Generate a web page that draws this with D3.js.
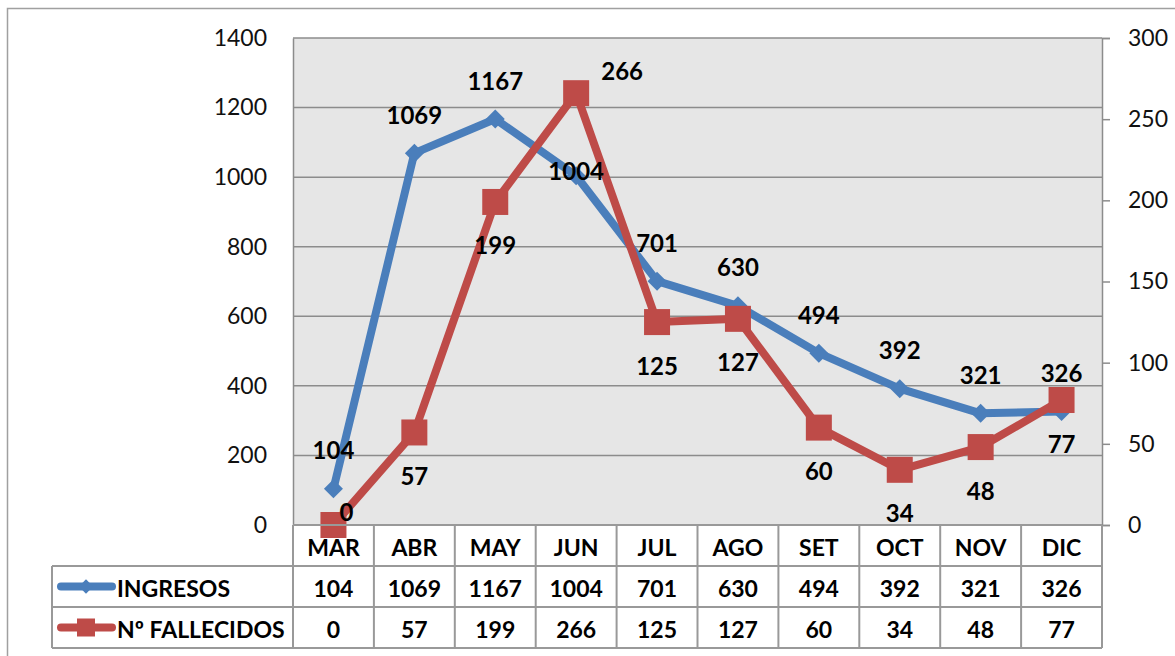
<!DOCTYPE html>
<html>
<head>
<meta charset="utf-8">
<script src="https://cdnjs.cloudflare.com/ajax/libs/d3/7.8.5/d3.min.js"></script>
<style>
  body { margin: 0; background: #fff; }
  text { font-family: Lato, "Open Sans", sans-serif; }
</style>
</head>
<body>
<div id="chart"></div>
<script>
const months = ["MAR", "ABR", "MAY", "JUN", "JUL", "AGO", "SET", "OCT", "NOV", "DIC"];
const ingresos = [104, 1069, 1167, 1004, 701, 630, 494, 392, 321, 326];
const fallecidos = [0, 57, 199, 266, 125, 127, 60, 34, 48, 77];
const leftTicks = [0, 200, 400, 600, 800, 1000, 1200, 1400];
const rightTicks = [0, 50, 100, 150, 200, 250, 300];

const width = 1175, height = 656;
const plotLeft = 293, plotRight = 1102, plotTop = 38, plotBottom = 525;
const rowH = 41;
const blue = "#4a7ebb", red = "#be4b48";

const svg = d3.select("#chart").append("svg")
  .attr("width", width).attr("height", height);

// outer chart border
svg.append("rect")
  .attr("x", 7.5).attr("y", 8.5)
  .attr("width", width).attr("height", height)
  .attr("fill", "none").attr("stroke", "#a0a0a0").attr("stroke-width", 1.5);

const x = d3.scaleBand().domain(months).range([plotLeft, plotRight]);
const cx = m => x(m) + x.bandwidth() / 2;
const yL = d3.scaleLinear().domain([0, 1400]).range([plotBottom, plotTop]);
const yR = d3.scaleLinear().domain([0, 300]).range([plotBottom, plotTop]);

// plot background
svg.append("rect")
  .attr("x", plotLeft).attr("y", plotTop)
  .attr("width", plotRight - plotLeft).attr("height", plotBottom - plotTop)
  .attr("fill", "#e6e6e6");

// gridlines
svg.append("g").selectAll("line")
  .data(leftTicks)
  .join("line")
  .attr("x1", plotLeft).attr("x2", plotRight)
  .attr("y1", d => yL(d)).attr("y2", d => yL(d))
  .attr("stroke", "#8c8c8c").attr("stroke-width", 1.5);

// left axis
const gL = svg.append("g")
  .attr("transform", `translate(${plotLeft},0)`)
  .call(d3.axisLeft(yL).tickValues(leftTicks).tickFormat(d3.format("d")).tickSize(0).tickPadding(26));
gL.select(".domain").attr("stroke", "#8c8c8c").attr("stroke-width", 1.5);
gL.selectAll("text").attr("font-size", 23).attr("fill", "#111")
  .style("font-family", "Lato, sans-serif");

// right axis
const gR = svg.append("g")
  .attr("transform", `translate(${plotRight},0)`)
  .call(d3.axisRight(yR).tickValues(rightTicks).tickSize(8).tickPadding(18));
gR.select(".domain").attr("stroke", "#8c8c8c").attr("stroke-width", 1.5);
gR.selectAll(".tick line").attr("stroke", "#8c8c8c").attr("stroke-width", 1.5);
gR.selectAll("text").attr("font-size", 23).attr("fill", "#111")
  .style("font-family", "Lato, sans-serif");

// lines
const lineL = d3.line().x((d, i) => cx(months[i])).y(d => yL(d));
const lineR = d3.line().x((d, i) => cx(months[i])).y(d => yR(d));

svg.append("path").datum(ingresos)
  .attr("d", lineL).attr("fill", "none")
  .attr("stroke", blue).attr("stroke-width", 8).attr("stroke-linejoin", "round");
svg.append("g").selectAll("path")
  .data(ingresos)
  .join("path")
  .attr("d", d3.symbol(d3.symbolDiamond2, 230))
  .attr("transform", (d, i) => `translate(${cx(months[i])},${yL(d)})`)
  .attr("fill", blue);

svg.append("path").datum(fallecidos)
  .attr("d", lineR).attr("fill", "none")
  .attr("stroke", red).attr("stroke-width", 8).attr("stroke-linejoin", "round");
svg.append("g").selectAll("rect")
  .data(fallecidos)
  .join("rect")
  .attr("x", (d, i) => cx(months[i]) - 13)
  .attr("y", d => yR(d) - 13)
  .attr("width", 26).attr("height", 26)
  .attr("fill", red);

// data labels
svg.append("g").selectAll("text")
  .data(ingresos)
  .join("text")
  .attr("x", (d, i) => cx(months[i]))
  .attr("y", (d, i) => yL(d) - (months[i] === "JUN" ? 5 : 39))
  .attr("text-anchor", "middle").attr("dominant-baseline", "central")
  .attr("font-size", 24).attr("font-weight", "bold").attr("fill", "#000")
  .text(d => d);

svg.append("g").selectAll("text")
  .data(fallecidos)
  .join("text")
  .attr("x", (d, i) => cx(months[i]) + (months[i] === "MAR" ? 13 : months[i] === "JUN" ? 46 : 0))
  .attr("y", (d, i) => yR(d) + (months[i] === "MAR" ? -14 : months[i] === "JUN" ? -23 : 43))
  .attr("text-anchor", "middle").attr("dominant-baseline", "central")
  .attr("font-size", 24).attr("font-weight", "bold").attr("fill", "#000")
  .text(d => d);

// data table
const tbl = svg.append("g");
const tableLeft = 52;
const rowsY = [plotBottom, plotBottom + rowH, plotBottom + 2 * rowH, plotBottom + 3 * rowH];
const gridCol = "#999";

// horizontal rules
tbl.append("line").attr("x1", plotLeft).attr("x2", plotRight).attr("y1", rowsY[0]).attr("y2", rowsY[0])
  .attr("stroke", gridCol).attr("stroke-width", 2);
[1, 2, 3].forEach(k => {
  tbl.append("line").attr("x1", tableLeft).attr("x2", plotRight)
    .attr("y1", rowsY[k]).attr("y2", rowsY[k])
    .attr("stroke", gridCol).attr("stroke-width", 2);
});
// vertical rules
tbl.selectAll("line.v")
  .data(months.map(m => x(m)).concat([plotRight]))
  .join("line")
  .attr("class", "v")
  .attr("x1", d => d).attr("x2", d => d)
  .attr("y1", rowsY[0]).attr("y2", rowsY[3])
  .attr("stroke", gridCol).attr("stroke-width", 2);
tbl.append("line").attr("x1", tableLeft).attr("x2", tableLeft)
  .attr("y1", rowsY[1]).attr("y2", rowsY[3])
  .attr("stroke", gridCol).attr("stroke-width", 2);

const cellText = (vals, row) => tbl.append("g").selectAll("text")
  .data(vals)
  .join("text")
  .attr("x", (d, i) => cx(months[i]))
  .attr("y", rowsY[row] + rowH / 2 + 1)
  .attr("text-anchor", "middle").attr("dominant-baseline", "central")
  .attr("font-size", 23).attr("font-weight", "bold").attr("fill", "#000")
  .text(d => d);
cellText(months, 0);
cellText(ingresos, 1);
cellText(fallecidos, 2);

// legend keys in table
const legend = [
  { name: "INGRESOS", color: blue, row: 1, shape: "diamond" },
  { name: "Nº FALLECIDOS", color: red, row: 2, shape: "square" }
];
legend.forEach(l => {
  const ly = rowsY[l.row] + rowH / 2;
  tbl.append("line").attr("x1", 61).attr("x2", 112).attr("y1", ly).attr("y2", ly)
    .attr("stroke", l.color).attr("stroke-width", 8).attr("stroke-linecap", "round");
  if (l.shape === "diamond") {
    tbl.append("path").attr("d", d3.symbol(d3.symbolDiamond2, 130))
      .attr("transform", `translate(86,${ly})`).attr("fill", l.color);
  } else {
    tbl.append("rect").attr("x", 77).attr("y", ly - 9).attr("width", 18).attr("height", 18)
      .attr("fill", l.color);
  }
  tbl.append("text").attr("x", 117).attr("y", ly + 1)
    .attr("dominant-baseline", "central")
    .attr("font-size", 23).attr("font-weight", "bold").attr("fill", "#000")
    .text(l.name);
});
</script>
</body>
</html>
